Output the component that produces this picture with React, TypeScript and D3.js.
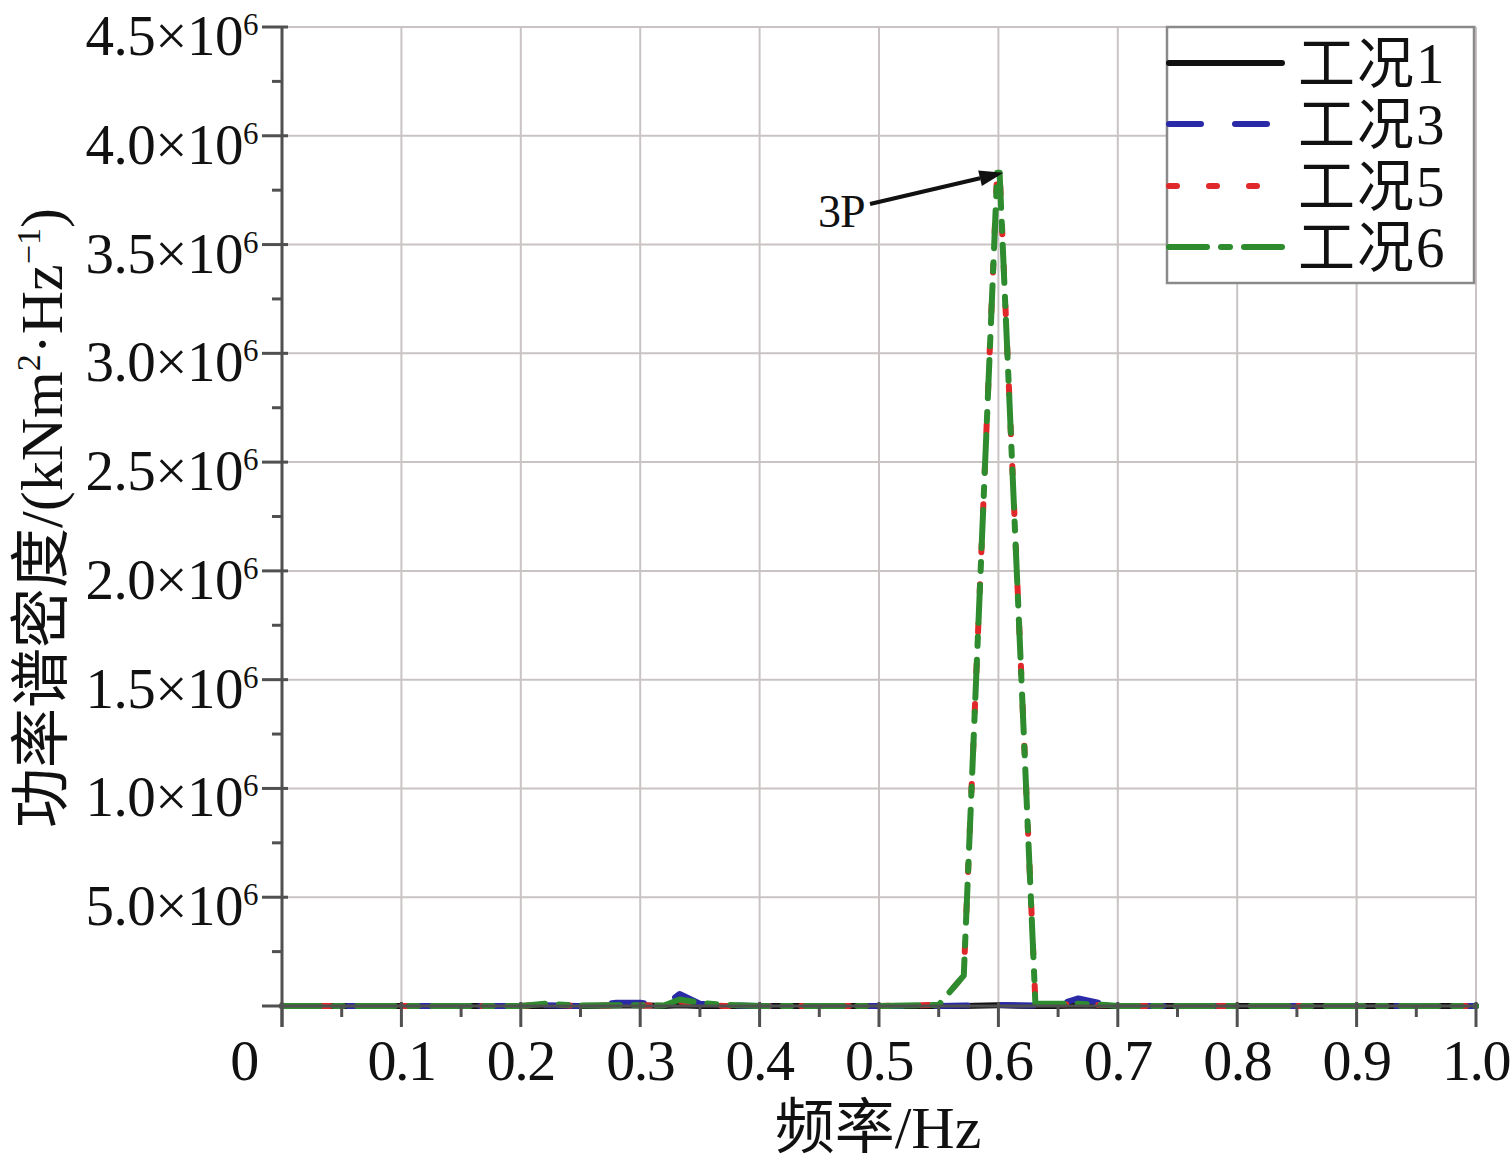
import React from "react";
import * as d3 from "d3";

// ---- data (values in units of 10^6 kNm^2/Hz) ----
const freq = [0, 0.05, 0.1, 0.15, 0.2, 0.22, 0.25, 0.28, 0.3, 0.32, 0.333, 0.35, 0.37, 0.4, 0.45, 0.5, 0.55, 0.571, 0.599, 0.601, 0.631, 0.65, 0.667, 0.69, 0.7, 0.8, 0.9, 1.0];
const case1 = [0, 0, 0, 0, 0, 0, 0, 0.002, 0.003, 0, 0.004, 0, 0, 0, 0, 0, 0, 0, 0.003, 0.003, 0, 0, 0.002, 0, 0, 0, 0, 0];
const case3 = [0, 0, 0, 0, 0, 0.003, 0, 0.015, 0.015, 0.003, 0.055, 0.01, 0.003, 0, 0, 0, 0, 0.002, 0.005, 0.005, 0.002, 0.005, 0.035, 0.008, 0, 0, 0, 0];
const case5 = [0, 0, 0, 0, 0, 0.008, 0, 0.003, 0.003, 0, 0.02, 0.008, 0, 0, 0, 0, 0.005, 0.14, 3.84, 3.84, 0.015, 0.008, 0.008, 0.004, 0, 0, 0, 0];
const case6 = [0, 0, 0, 0, 0, 0.01, 0.002, 0.004, 0.004, 0.002, 0.03, 0.015, 0.005, 0, 0, 0, 0.005, 0.14, 3.83, 3.83, 0.01, 0.01, 0.01, 0.005, 0, 0, 0, 0];

const seriesNames = ["工况1", "工况3", "工况5", "工况6"];
const xTicks = [0, 0.1, 0.2, 0.3, 0.4, 0.5, 0.6, 0.7, 0.8, 0.9, 1.0];
const xTickLabels = ["0", "0.1", "0.2", "0.3", "0.4", "0.5", "0.6", "0.7", "0.8", "0.9", "1.0"];
const yTicks = [0.5, 1.0, 1.5, 2.0, 2.5, 3.0, 3.5, 4.0, 4.5];
const yTickMantissa = ["5.0", "1.0", "1.5", "2.0", "2.5", "3.0", "3.5", "4.0", "4.5"];
const peakLabel = "3P";
const peakFreq = 0.6;
const peakValue = 3.83;

const SERIF = "'Liberation Serif', 'Times New Roman', 'Noto Sans CJK SC', serif";

export default function App() {
  const left = 282, right = 1476, top = 27, bottom = 1006;
  const x = d3.scaleLinear().domain([0, 1]).range([left, right]);
  const y = d3.scaleLinear().domain([0, 4.5]).range([bottom, top]);

  const series = [
    { name: seriesNames[0], values: case1, color: "#111111", dash: "none" },
    { name: seriesNames[1], values: case3, color: "#2a2aa8", dash: "32 34" },
    { name: seriesNames[2], values: case5, color: "#e0282a", dash: "8 32" },
    { name: seriesNames[3], values: case6, color: "#2e8b2e", dash: "38 14 9 14" },
  ];

  const line = d3
    .line<number>()
    .x((_, i) => x(freq[i]))
    .y((v) => y(v));

  const minorX = d3.range(0.05, 1, 0.1);
  const minorY = d3.range(0.25, 4.5, 0.5);

  const grid = "#c9c3c3";
  const axisColor = "#505050";

  const ax0 = 870, ay0 = 204;
  const ax1 = x(peakFreq) + 5, ay1 = y(peakValue);
  const ang = Math.atan2(ay1 - ay0, ax1 - ax0);
  const ah = 24, aw = 8;
  const bx = ax1 - ah * Math.cos(ang), by = ay1 - ah * Math.sin(ang);
  const arrowHead = `M${ax1},${ay1} L${bx - aw * Math.sin(ang)},${by + aw * Math.cos(ang)} L${bx + aw * Math.sin(ang)},${by - aw * Math.cos(ang)} Z`;

  const legX0 = 1167, legY0 = 27, legW = 307, legH = 256;
  const legRowY = [63, 124, 186, 247];

  return (
    <svg
      width={1511}
      height={1165}
      style={{ position: "absolute", left: 0, top: 0, background: "#fff" }}
      fontFamily={SERIF}
    >
      {/* grid */}
      {xTicks.map((t) => (
        <line key={"gx" + t} x1={x(t)} x2={x(t)} y1={top} y2={bottom} stroke={grid} strokeWidth={2} />
      ))}
      {[0, ...yTicks].map((t) => (
        <line key={"gy" + t} x1={left} x2={right} y1={y(t)} y2={y(t)} stroke={grid} strokeWidth={2} />
      ))}

      {/* series */}
      {series.map((s) => (
        <path
          key={s.name}
          d={line(s.values) || ""}
          fill="none"
          stroke={s.color}
          strokeWidth={6}
          strokeDasharray={s.dash}
          strokeLinecap="round"
          strokeLinejoin="round"
        />
      ))}

      {/* axes */}
      <line x1={left} x2={left} y1={top} y2={bottom + 21} stroke={axisColor} strokeWidth={3} />
      <line x1={left - 20} x2={right} y1={bottom} y2={bottom} stroke={axisColor} strokeWidth={3} />
      {yTicks.map((t) => (
        <line key={"yt" + t} x1={left - 20} x2={left + 6} y1={y(t)} y2={y(t)} stroke={axisColor} strokeWidth={3} />
      ))}
      {minorY.map((t) => (
        <line key={"ym" + t} x1={left - 10} x2={left} y1={y(t)} y2={y(t)} stroke={axisColor} strokeWidth={3} />
      ))}
      {xTicks.map((t) => (
        <line key={"xt" + t} x1={x(t)} x2={x(t)} y1={bottom - 4} y2={bottom + 21} stroke={axisColor} strokeWidth={3} />
      ))}
      {minorX.map((t) => (
        <line key={"xm" + t} x1={x(t)} x2={x(t)} y1={bottom} y2={bottom + 11} stroke={axisColor} strokeWidth={3} />
      ))}

      {/* y tick labels */}
      {yTicks.map((t, i) => (
        <text key={"yl" + t} x={258} y={y(t) + 28} textAnchor="end" fontSize={57} letterSpacing={-0.5} fill="#111">
          {yTickMantissa[i]}×10
          <tspan fontSize={31} dy={-20}>6</tspan>
        </text>
      ))}

      {/* x tick labels */}
      {xTicks.map((t, i) => (
        <text
          key={"xl" + t}
          x={i === 0 ? 244 : x(t)}
          y={1080}
          textAnchor="middle"
          fontSize={58}
          letterSpacing={-1.5}
          fill="#111"
        >
          {xTickLabels[i]}
        </text>
      ))}

      {/* axis titles */}
      <text x={878} y={1148} textAnchor="middle" fontSize={60} fill="#111" letterSpacing={0}>
        频率/Hz
      </text>
      <text
        transform="translate(62,518) rotate(-90)"
        textAnchor="middle"
        fontSize={60}
        fill="#111"
        letterSpacing={0}
      >
        功率谱密度/(kNm
        <tspan fontSize={34} dy={-22}>2</tspan>
        <tspan dy={22}>·Hz</tspan>
        <tspan fontSize={34} dy={-22}>−1</tspan>
        <tspan dy={22}>)</tspan>
      </text>

      {/* annotation */}
      <text x={818} y={227} fontSize={46} fill="#111" letterSpacing={-1}>
        {peakLabel}
      </text>
      <line x1={ax0} y1={ay0} x2={bx} y2={by} stroke="#111" strokeWidth={4} />
      <path d={arrowHead} fill="#111" />

      {/* legend */}
      <rect x={legX0} y={legY0} width={legW} height={legH} fill="#fff" stroke="#8a8a8a" strokeWidth={2.5} />
      {series.map((s, i) => (
        <g key={"lg" + s.name}>
          <line
            x1={legX0 + 2}
            x2={1282}
            y1={legRowY[i]}
            y2={legRowY[i]}
            stroke={s.color}
            strokeWidth={6}
            strokeDasharray={s.dash}
            strokeLinecap="round"
          />
          <text x={1298} y={legRowY[i] + 20} fontSize={57} fill="#111" letterSpacing={2}>
            {s.name}
          </text>
        </g>
      ))}
    </svg>
  );
}
